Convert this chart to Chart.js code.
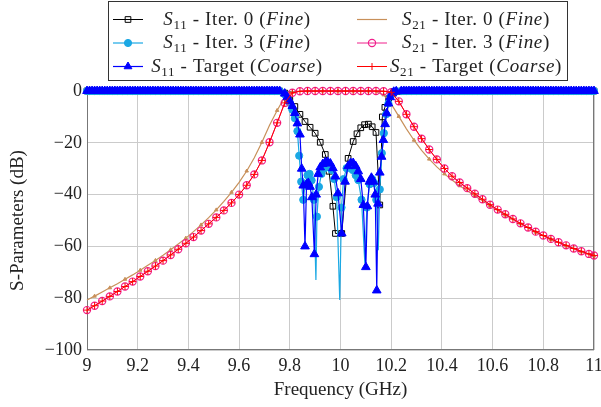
<!DOCTYPE html>
<html lang="en">
<head>
<meta charset="UTF-8">
<title>S-Parameters</title>
<script src="https://cdn.jsdelivr.net/npm/chart.js"></script>
<style>
  html, body { margin: 0; padding: 0; background: #fff; }
  #wrap { width: 601px; height: 407px; }
</style>
</head>
<body>
<div id="wrap"><canvas id="sparams" width="601" height="407"></canvas></div>
<script>
const xTicks = [9, 9.2, 9.4, 9.6, 9.8, 10, 10.2, 10.4, 10.6, 10.8, 11];
const yTicks = [0, -20, -40, -60, -80, -100];

// |S11| is flat at 0 dB in both stopbands
const stopLow = [9.00, 9.01, 9.02, 9.03, 9.04, 9.05, 9.06, 9.07, 9.08, 9.09,
  9.10, 9.11, 9.12, 9.13, 9.14, 9.15, 9.16, 9.17, 9.18, 9.19,
  9.20, 9.21, 9.22, 9.23, 9.24, 9.25, 9.26, 9.27, 9.28, 9.29,
  9.30, 9.31, 9.32, 9.33, 9.34, 9.35, 9.36, 9.37, 9.38, 9.39,
  9.40, 9.41, 9.42, 9.43, 9.44, 9.45, 9.46, 9.47, 9.48, 9.49,
  9.50, 9.51, 9.52, 9.53, 9.54, 9.55, 9.56, 9.57, 9.58, 9.59,
  9.60, 9.61, 9.62, 9.63, 9.64, 9.65, 9.66, 9.67, 9.68, 9.69,
  9.70, 9.71, 9.72, 9.73, 9.74, 9.75, 9.76];
const stopHigh = [10.24, 10.25, 10.26, 10.27, 10.28, 10.29, 10.30, 10.31, 10.32, 10.33,
  10.34, 10.35, 10.36, 10.37, 10.38, 10.39, 10.40, 10.41, 10.42, 10.43,
  10.44, 10.45, 10.46, 10.47, 10.48, 10.49, 10.50, 10.51, 10.52, 10.53,
  10.54, 10.55, 10.56, 10.57, 10.58, 10.59, 10.60, 10.61, 10.62, 10.63,
  10.64, 10.65, 10.66, 10.67, 10.68, 10.69, 10.70, 10.71, 10.72, 10.73,
  10.74, 10.75, 10.76, 10.77, 10.78, 10.79, 10.80, 10.81, 10.82, 10.83,
  10.84, 10.85, 10.86, 10.87, 10.88, 10.89, 10.90, 10.91, 10.92, 10.93,
  10.94, 10.95, 10.96, 10.97, 10.98, 10.99, 11.00];
const stopS11 = [0, 0, 0, 0, 0, 0, 0, 0, 0, 0,
  0, 0, 0, 0, 0, 0, 0, 0, 0, 0,
  0, 0, 0, 0, 0, 0, 0, 0, 0, 0,
  0, 0, 0, 0, 0, 0, 0, 0, 0, 0,
  0, 0, 0, 0, 0, 0, 0, 0, 0, 0,
  0, 0, 0, 0, 0, 0, 0, 0, 0, 0,
  0, 0, 0, 0, 0, 0, 0, 0, 0, 0,
  0, 0, 0, 0, 0, 0, 0];

// S11 inside the passband (GHz / dB)
const s11Iter0Freq = [9.78, 9.80, 9.82, 9.84, 9.86, 9.88, 9.90, 9.92, 9.94, 9.955,
  9.97, 9.98, 10.005, 10.03, 10.05, 10.065, 10.08, 10.095, 10.11, 10.125,
  10.14, 10.155, 10.165, 10.175, 10.19, 10.21, 10.23];
const s11Iter0 = [-0.8, -3.5, -6.0, -9.0, -11.8, -14.0, -16.3, -19.8, -24.5, -31.0,
  -44.5, -55.0, -55.0, -26.0, -19.5, -16.5, -14.2, -13.0, -12.8, -13.8,
  -16.0, -44.0, -10.0, -6.3, -3.0, -0.8, -0.2];

const s11Iter3Freq = [9.78, 9.79, 9.80, 9.81, 9.82, 9.83, 9.837, 9.845, 9.853, 9.861,
  9.87, 9.878, 9.886, 9.895, 9.903, 9.907, 9.915, 9.925, 9.935, 9.945,
  9.955, 9.965, 9.975, 9.985, 9.997, 10.004, 10.012, 10.024, 10.036, 10.048,
  10.06, 10.07, 10.083, 10.096, 10.104, 10.115, 10.125, 10.133, 10.141, 10.149,
  10.155, 10.163, 10.171, 10.18, 10.189, 10.198, 10.21, 10.22];
const s11Iter3 = [-1.3, -2.8, -4.6, -7.2, -10.5, -15.5, -25.0, -35.0, -42.0, -36.0,
  -32.5, -32.0, -34.5, -42.0, -73.0, -48.5, -37.0, -32.0, -30.0, -29.2,
  -29.5, -30.5, -34.0, -41.0, -80.7, -45.0, -34.0, -29.8, -29.5, -30.5,
  -32.5, -34.4, -42.0, -66.5, -45.0, -36.0, -34.0, -35.5, -42.0, -61.5,
  -38.0, -24.0, -16.3, -9.0, -4.8, -2.0, -0.5, -0.1];

const s11TargetFreq = [9.78, 9.79, 9.80, 9.81, 9.82, 9.83, 9.84, 9.847, 9.853, 9.86,
  9.866, 9.873, 9.88, 9.887, 9.897, 9.904, 9.912, 9.92, 9.93, 9.94,
  9.95, 9.96, 9.97, 9.98, 9.99, 10.005, 10.018, 10.03, 10.04, 10.05,
  10.06, 10.07, 10.08, 10.09, 10.10, 10.106, 10.114, 10.122, 10.13, 10.137,
  10.143, 10.148, 10.155, 10.162, 10.169, 10.176, 10.182, 10.189, 10.196, 10.203,
  10.21, 10.22];
const s11Target = [-1.0, -2.3, -3.9, -5.8, -8.5, -12.5, -16.8, -30.0, -36.5, -60.0,
  -36.0, -35.5, -37.0, -41.0, -63.0, -40.0, -32.0, -29.5, -28.2, -27.5,
  -27.4, -28.0, -29.8, -33.0, -39.5, -55.0, -35.0, -29.0, -27.8, -27.8,
  -29.0, -31.0, -34.0, -44.0, -68.0, -44.5, -35.0, -33.5, -35.0, -40.0,
  -77.0, -43.5, -31.5, -25.4, -18.9, -12.8, -8.6, -4.8, -2.4, -0.9,
  -0.3, -0.1];

// S21 sweep (GHz / dB)
const s21Freq = [9.00, 9.03, 9.06, 9.09, 9.12, 9.15, 9.18, 9.21, 9.24, 9.27,
  9.30, 9.33, 9.36, 9.39, 9.42, 9.45, 9.48, 9.51, 9.54, 9.57,
  9.60, 9.63, 9.66, 9.69, 9.72, 9.75, 9.78, 9.81, 9.84, 9.87,
  9.90, 9.93, 9.96, 9.99, 10.02, 10.05, 10.08, 10.11, 10.14, 10.17,
  10.20, 10.23, 10.26, 10.29, 10.32, 10.35, 10.38, 10.41, 10.44, 10.47,
  10.50, 10.53, 10.56, 10.59, 10.62, 10.65, 10.68, 10.71, 10.74, 10.77,
  10.80, 10.83, 10.86, 10.89, 10.92, 10.95, 10.98, 11.00];
const s21Iter0 = [-80.7, -79.2, -77.6, -76.0, -74.4, -72.7, -71.0, -69.2, -67.3, -65.4,
  -63.4, -61.3, -59.1, -56.8, -54.3, -51.7, -48.9, -45.9, -42.6, -39.1,
  -35.3, -30.9, -25.8, -19.8, -13.2, -7.5, -2.3, -0.5, -0.1, 0,
  0, 0, 0, 0, 0, 0, 0, 0, -0.3, -1.5,
  -5.0, -9.8, -14.6, -19.0, -22.9, -26.3, -29.3, -32.0, -34.4, -36.6,
  -38.5, -40.5, -42.4, -44.3, -46.1, -47.9, -49.6, -51.3, -52.9, -54.5,
  -56.0, -57.3, -58.6, -59.8, -61.0, -62.1, -63.1, -63.7];
const s21Iter3 = [-84.6, -82.9, -81.1, -79.3, -77.4, -75.5, -73.6, -71.6, -69.6, -67.6,
  -65.5, -63.3, -61.1, -58.8, -56.4, -53.9, -51.3, -48.8, -46.1, -43.2,
  -40.0, -36.4, -32.2, -26.8, -19.8, -12.3, -4.6, -0.7, -0.1, 0,
  0, 0, 0, 0, 0, 0, 0, 0, 0, -0.1,
  -0.5, -4.0, -9.0, -13.8, -18.4, -22.6, -26.4, -29.9, -32.9, -35.3,
  -37.5, -39.7, -41.8, -43.9, -45.8, -47.6, -49.4, -51.1, -52.7, -54.3,
  -55.8, -57.1, -58.4, -59.6, -60.8, -61.9, -62.9, -63.5];
const s21Target = [-84.6, -82.9, -81.1, -79.3, -77.4, -75.5, -73.6, -71.6, -69.6, -67.6,
  -65.5, -63.3, -61.1, -58.8, -56.4, -53.9, -51.3, -48.8, -46.1, -43.2,
  -40.0, -36.4, -32.2, -26.8, -19.8, -12.3, -4.6, -0.7, -0.1, 0,
  0, 0, 0, 0, 0, 0, 0, 0, 0, -0.1,
  -0.5, -4.0, -9.0, -13.8, -18.4, -22.6, -26.4, -29.9, -32.9, -35.3,
  -37.5, -39.7, -41.8, -43.9, -45.8, -47.6, -49.4, -51.1, -52.7, -54.3,
  -55.8, -57.1, -58.4, -59.6, -60.8, -61.9, -62.9, -63.5];

const FONT = '"Liberation Serif", "DejaVu Serif", serif';
const TEXT = '#222';

const pts = (freq, db) => freq.map((f, i) => ({ x: f, y: db[i] }));
const s11Trace = (freq, db) => pts(stopLow, stopS11).concat(pts(freq, db), pts(stopHigh, stopS11));

// frame around the plot area, under the curves
const axisFrame = {
  id: 'axisFrame',
  beforeDatasetsDraw(chart) {
    const { ctx, chartArea: a } = chart;
    ctx.save();
    ctx.strokeStyle = '#777';
    ctx.lineWidth = 1;
    ctx.strokeRect(Math.round(a.left) + 0.5, Math.round(a.top) + 0.5,
      Math.round(a.width) - 1, Math.round(a.height) - 1);
    ctx.restore();
  }
};

// boxed two-column legend, S with subscript and italic model name
const legendBox = {
  id: 'legendBox',
  afterDraw(chart) {
    const ctx = chart.ctx;
    const colX = [113, 357];
    const colMid = [237, 476];
    const rowY = [19.5, 43, 66.5];
    ctx.save();
    ctx.fillStyle = '#fff';
    ctx.strokeStyle = '#333';
    ctx.lineWidth = 1;
    ctx.fillRect(108.5, 1.5, 459, 79);
    ctx.strokeRect(108.5, 1.5, 459, 79);
    ctx.letterSpacing = '0.65px';

    chart.data.datasets.forEach((ds, i) => {
      const col = i % 2, y = rowY[Math.floor(i / 2)];
      const x0 = colX[col];
      ctx.strokeStyle = ds.borderColor;
      ctx.lineWidth = ds.borderWidth;
      ctx.beginPath();
      ctx.moveTo(x0, y);
      ctx.lineTo(x0 + 30, y);
      ctx.stroke();
      const r = typeof ds.pointRadius === 'function'
        ? ds.pointRadius({ dataIndex: 0, raw: ds.data[0] }) : ds.pointRadius;
      if (r > 0) {
        ctx.fillStyle = ds.pointBackgroundColor;
        ctx.strokeStyle = ds.pointBorderColor;
        ctx.lineWidth = ds.pointBorderWidth;
        Chart.helpers.drawPoint(ctx, { pointStyle: ds.pointStyle, radius: Math.min(r, 4.5), rotation: 0,
          borderWidth: ds.pointBorderWidth }, x0 + 15, y);
      }

      const m = ds.label.match(/^S(\d+)(.*\()(.*)\)$/);
      const parts = [
        ['S', 'italic 19px ' + FONT, 0],
        [m[1], '13px ' + FONT, 4],
        [m[2], '19px ' + FONT, 0],
        [m[3], 'italic 19px ' + FONT, 0],
        [')', '19px ' + FONT, 0]
      ];
      let w = 0;
      parts.forEach(p => { ctx.font = p[1]; w += ctx.measureText(p[0]).width; });
      let x = colMid[col] - w / 2;
      ctx.fillStyle = TEXT;
      ctx.textBaseline = 'alphabetic';
      parts.forEach(p => {
        ctx.font = p[1];
        ctx.fillText(p[0], x, y + 5 + p[2]);
        x += ctx.measureText(p[0]).width;
      });
    });
    ctx.restore();
  }
};

const none = 'rgba(0,0,0,0)';

new Chart(document.getElementById('sparams'), {
  type: 'line',
  data: {
    datasets: [
      {
        label: 'S11 - Iter. 0 (Fine)',
        data: s11Trace(s11Iter0Freq, s11Iter0),
        borderColor: '#000', borderWidth: 1,
        pointStyle: 'rect', pointRadius: 4,
        pointBorderColor: '#000', pointBackgroundColor: none, pointBorderWidth: 1,
        order: 5
      },
      {
        label: 'S21 - Iter. 0 (Fine)',
        data: pts(s21Freq, s21Iter0),
        borderColor: '#c8905a', borderWidth: 1.2,
        pointStyle: 'triangle', pointRadius: c => (c.dataIndex % 2 ? 2 : 0),
        pointBorderColor: '#c8905a', pointBackgroundColor: '#c8905a', pointBorderWidth: 1,
        order: 4
      },
      {
        label: 'S11 - Iter. 3 (Fine)',
        data: s11Trace(s11Iter3Freq, s11Iter3),
        borderColor: '#1aa8e4', borderWidth: 1.2,
        // deep reflection zeros are drawn as bare line
        pointStyle: 'circle', pointRadius: c => (c.raw && c.raw.y < -55 ? 0 : 3.6),
        pointBorderColor: '#1aa8e4', pointBackgroundColor: '#1aa8e4', pointBorderWidth: 1,
        order: 3
      },
      {
        label: 'S21 - Iter. 3 (Fine)',
        data: pts(s21Freq, s21Iter3),
        borderColor: '#f0208c', borderWidth: 1,
        pointStyle: 'circle', pointRadius: 3.6,
        pointBorderColor: '#f0208c', pointBackgroundColor: none, pointBorderWidth: 1.2,
        order: 2
      },
      {
        label: 'S11 - Target (Coarse)',
        data: s11Trace(s11TargetFreq, s11Target),
        borderColor: '#0000ff', borderWidth: 1.2,
        pointStyle: 'triangle', pointRadius: 5,
        pointBorderColor: '#0000ff', pointBackgroundColor: '#0000ff', pointBorderWidth: 1,
        order: 1
      },
      {
        label: 'S21 - Target (Coarse)',
        data: pts(s21Freq, s21Target),
        borderColor: '#ff0000', borderWidth: 1,
        pointStyle: 'cross', pointRadius: 3.5,
        pointBorderColor: '#ff0000', pointBackgroundColor: none, pointBorderWidth: 1,
        order: 0
      }
    ]
  },
  options: {
    responsive: false,
    animation: false,
    events: [],
    layout: { padding: { top: 91, right: 7, left: 0, bottom: 0 } },
    datasets: { line: { clip: false, tension: 0 } },
    plugins: { legend: { display: false }, tooltip: { enabled: false } },
    scales: {
      x: {
        type: 'linear', min: 9, max: 11,
        afterBuildTicks: s => { s.ticks = xTicks.map(v => ({ value: v })); },
        afterFit: s => { s.height = 57; s.paddingLeft = 0; s.paddingRight = 0; },
        grid: { color: '#cbcbcb', lineWidth: 1, drawTicks: false },
        border: { display: false },
        ticks: {
          padding: 5, color: TEXT, font: { family: FONT, size: 18 },
          callback: v => String(+v.toFixed(1))
        },
        title: {
          display: true, text: 'Frequency (GHz)', color: TEXT,
          font: { family: FONT, size: 19 }, padding: { top: 0, bottom: 6 }
        }
      },
      y: {
        type: 'linear', min: -100, max: 0,
        afterBuildTicks: s => { s.ticks = yTicks.map(v => ({ value: v })); },
        afterFit: s => { s.width = 87; s.paddingTop = 0; s.paddingBottom = 0; },
        grid: { color: '#cbcbcb', lineWidth: 1, drawTicks: false },
        border: { display: false },
        ticks: {
          padding: 5, color: TEXT, font: { family: FONT, size: 18 },
          callback: v => (v < 0 ? '\u2212' + (-v) : String(v))
        },
        title: {
          display: true, text: 'S-Parameters (dB)', color: TEXT,
          font: { family: FONT, size: 19 }, padding: { top: 7, bottom: 0 }
        }
      }
    }
  },
  plugins: [axisFrame, legendBox]
});
</script>
</body>
</html>
